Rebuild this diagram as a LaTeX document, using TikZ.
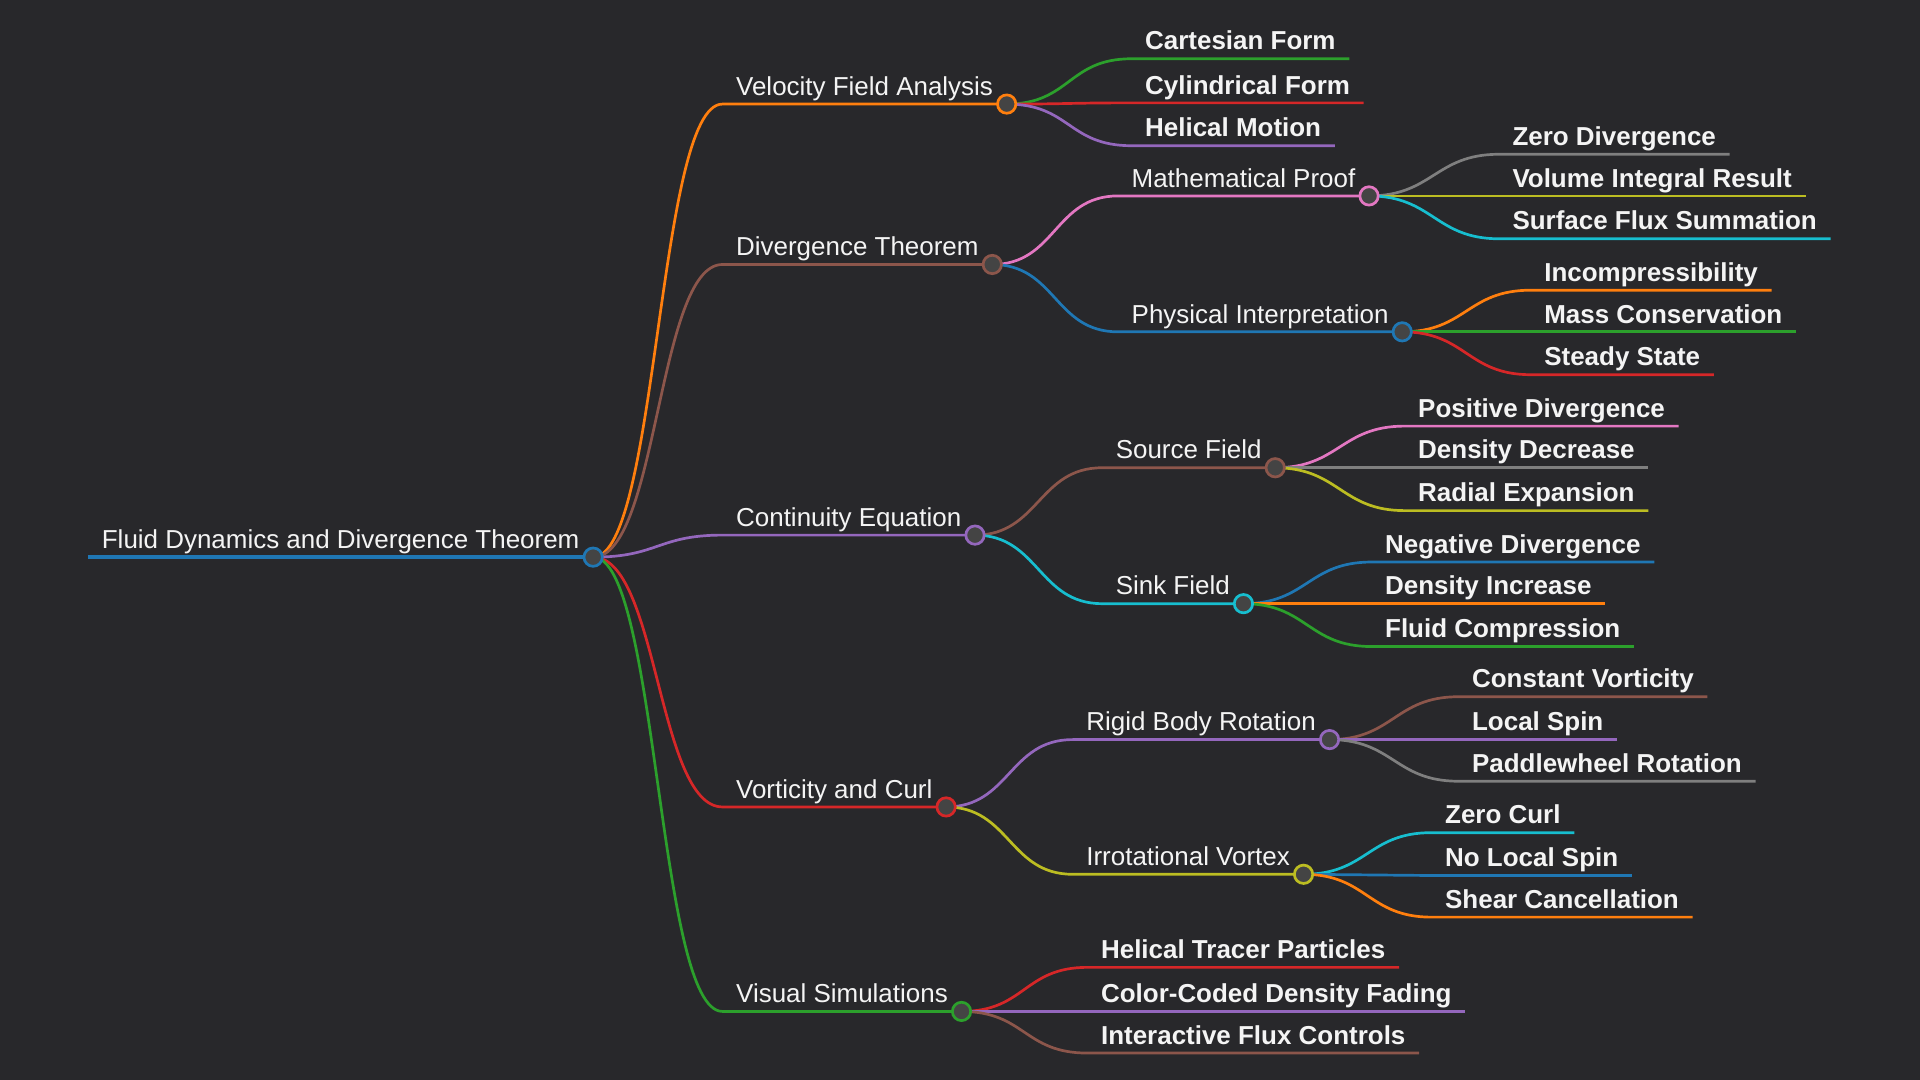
\documentclass[tikz,border=0pt]{standalone}
\usepackage{fontspec}
\setmainfont{Liberation Sans}
\definecolor{bg}{HTML}{28282B}
\definecolor{txt}{HTML}{F4F4F4}
\definecolor{dotgray}{HTML}{444444}
\definecolor{cblue}{HTML}{1F77B4}
\definecolor{corange}{HTML}{FF7F0E}
\definecolor{cgreen}{HTML}{2CA02C}
\definecolor{cred}{HTML}{D62728}
\definecolor{cpurple}{HTML}{9467BD}
\definecolor{cbrown}{HTML}{8C564B}
\definecolor{cpink}{HTML}{E377C2}
\definecolor{cgray}{HTML}{7F7F7F}
\definecolor{colive}{HTML}{BCBD22}
\definecolor{ccyan}{HTML}{17BECF}
\tikzset{
  topic/.style={anchor=south west, inner xsep=11pt, inner ysep=0pt, text depth=7pt,
    text=txt, font=\fontsize{21.2}{25}\selectfont},
  leaf/.style={topic, font=\fontsize{21.2}{25}\selectfont\bfseries},
  link/.style={draw=#1, line width=2.2pt},
  dot/.style={circle, draw=#1, fill=dotgray, line width=2.2pt, minimum size=15pt, inner sep=0pt},
}
\begin{document}
\begin{tikzpicture}[x=1pt,y=-1pt]
\fill[bg] (0,0) rectangle (1568,882);
\useasboundingbox (0,0) rectangle (1568,882);
% topics
\node[topic] (root) at (72,455) {Fluid Dynamics and Divergence Theorem};
\node[topic] (vel) at (590,85) {Velocity Field Analysis};
\node[topic] (div) at (590,216) {Divergence Theorem};
\node[topic] (cont) at (590,437) {Continuity Equation};
\node[topic] (vort) at (590,659) {Vorticity and Curl};
\node[topic] (vis) at (590,826) {Visual Simulations};
\node[topic] (math) at (913,160) {Mathematical Proof};
\node[topic] (phys) at (913,271) {Physical Interpretation};
\node[topic] (src) at (900,382) {Source Field};
\node[topic] (sink) at (900,493) {Sink Field};
\node[topic] (rigid) at (876,604) {Rigid Body Rotation};
\node[topic] (irrot) at (876,714) {Irrotational Vortex};
% leaves
\node[leaf] (cart) at (924,48) {Cartesian Form};
\node[leaf] (cyl) at (924,84) {Cylindrical Form};
\node[leaf] (hel) at (924,119) {Helical Motion};
\node[leaf] (zdiv) at (1224,126) {Zero Divergence};
\node[leaf] (vol) at (1224,160) {Volume Integral Result};
\node[leaf] (surf) at (1224,195) {Surface Flux Summation};
\node[leaf] (incomp) at (1250,237) {Incompressibility};
\node[leaf] (mass) at (1250,271) {Mass Conservation};
\node[leaf] (steady) at (1250,306) {Steady State};
\node[leaf] (pos) at (1147,348) {Positive Divergence};
\node[leaf] (ddec) at (1147,382) {Density Decrease};
\node[leaf] (rad) at (1147,417) {Radial Expansion};
\node[leaf] (neg) at (1120,459) {Negative Divergence};
\node[leaf] (dinc) at (1120,493) {Density Increase};
\node[leaf] (comp) at (1120,528) {Fluid Compression};
\node[leaf] (cvort) at (1191,569) {Constant Vorticity};
\node[leaf] (lspin) at (1191,604) {Local Spin};
\node[leaf] (paddle) at (1191,638) {Paddlewheel Rotation};
\node[leaf] (zcurl) at (1169,680) {Zero Curl};
\node[leaf] (nospin) at (1169,715) {No Local Spin};
\node[leaf] (shear) at (1169,749) {Shear Cancellation};
\node[leaf] (tracer) at (888,790) {Helical Tracer Particles};
\node[leaf] (fade) at (888,826) {Color-Coded Density Fading};
\node[leaf] (flux) at (888,860) {Interactive Flux Controls};
% links
\draw[link=cblue, line width=3.5pt] (root.south west) -- (root.south east);
\draw[link=corange] (root.south east) .. controls +(53,0) and +(-53,0) .. (vel.south west) -- (vel.south east);
\draw[link=cbrown] (root.south east) .. controls +(53,0) and +(-53,0) .. (div.south west) -- (div.south east);
\draw[link=cpurple] (root.south east) .. controls +(53,0) and +(-53,0) .. (cont.south west) -- (cont.south east);
\draw[link=cred] (root.south east) .. controls +(53,0) and +(-53,0) .. (vort.south west) -- (vort.south east);
\draw[link=cgreen] (root.south east) .. controls +(53,0) and +(-53,0) .. (vis.south west) -- (vis.south east);
\draw[link=cgreen] (vel.south east) .. controls +(52,0) and +(-52,0) .. (cart.south west) -- (cart.south east);
\draw[link=cred] (vel.south east) .. controls +(52,0) and +(-52,0) .. (cyl.south west) -- (cyl.south east);
\draw[link=cpurple] (vel.south east) .. controls +(52,0) and +(-52,0) .. (hel.south west) -- (hel.south east);
\draw[link=cpink] (div.south east) .. controls +(52,0) and +(-52,0) .. (math.south west) -- (math.south east);
\draw[link=cblue] (div.south east) .. controls +(52,0) and +(-52,0) .. (phys.south west) -- (phys.south east);
\draw[link=cgray] (math.south east) .. controls +(52,0) and +(-52,0) .. (zdiv.south west) -- (zdiv.south east);
\draw[link=colive] (math.south east) .. controls +(52,0) and +(-52,0) .. (vol.south west) -- (vol.south east);
\draw[link=ccyan] (math.south east) .. controls +(52,0) and +(-52,0) .. (surf.south west) -- (surf.south east);
\draw[link=corange] (phys.south east) .. controls +(52,0) and +(-52,0) .. (incomp.south west) -- (incomp.south east);
\draw[link=cgreen] (phys.south east) .. controls +(52,0) and +(-52,0) .. (mass.south west) -- (mass.south east);
\draw[link=cred] (phys.south east) .. controls +(52,0) and +(-52,0) .. (steady.south west) -- (steady.south east);
\draw[link=cbrown] (cont.south east) .. controls +(52,0) and +(-52,0) .. (src.south west) -- (src.south east);
\draw[link=ccyan] (cont.south east) .. controls +(52,0) and +(-52,0) .. (sink.south west) -- (sink.south east);
\draw[link=cpink] (src.south east) .. controls +(52,0) and +(-52,0) .. (pos.south west) -- (pos.south east);
\draw[link=cgray] (src.south east) .. controls +(52,0) and +(-52,0) .. (ddec.south west) -- (ddec.south east);
\draw[link=colive] (src.south east) .. controls +(52,0) and +(-52,0) .. (rad.south west) -- (rad.south east);
\draw[link=cblue] (sink.south east) .. controls +(52,0) and +(-52,0) .. (neg.south west) -- (neg.south east);
\draw[link=corange] (sink.south east) .. controls +(52,0) and +(-52,0) .. (dinc.south west) -- (dinc.south east);
\draw[link=cgreen] (sink.south east) .. controls +(52,0) and +(-52,0) .. (comp.south west) -- (comp.south east);
\draw[link=cpurple] (vort.south east) .. controls +(52,0) and +(-52,0) .. (rigid.south west) -- (rigid.south east);
\draw[link=colive] (vort.south east) .. controls +(52,0) and +(-52,0) .. (irrot.south west) -- (irrot.south east);
\draw[link=cbrown] (rigid.south east) .. controls +(52,0) and +(-52,0) .. (cvort.south west) -- (cvort.south east);
\draw[link=cpurple] (rigid.south east) .. controls +(52,0) and +(-52,0) .. (lspin.south west) -- (lspin.south east);
\draw[link=cgray] (rigid.south east) .. controls +(52,0) and +(-52,0) .. (paddle.south west) -- (paddle.south east);
\draw[link=ccyan] (irrot.south east) .. controls +(52,0) and +(-52,0) .. (zcurl.south west) -- (zcurl.south east);
\draw[link=cblue] (irrot.south east) .. controls +(52,0) and +(-52,0) .. (nospin.south west) -- (nospin.south east);
\draw[link=corange] (irrot.south east) .. controls +(52,0) and +(-52,0) .. (shear.south west) -- (shear.south east);
\draw[link=cred] (vis.south east) .. controls +(52,0) and +(-52,0) .. (tracer.south west) -- (tracer.south east);
\draw[link=cpurple] (vis.south east) .. controls +(52,0) and +(-52,0) .. (fade.south west) -- (fade.south east);
\draw[link=cbrown] (vis.south east) .. controls +(52,0) and +(-52,0) .. (flux.south west) -- (flux.south east);
% dots
\node[dot=cblue] (rootdot) at (root.south east) {};
\node[dot=corange] (veldot) at (vel.south east) {};
\node[dot=cbrown] (divdot) at (div.south east) {};
\node[dot=cpurple] (contdot) at (cont.south east) {};
\node[dot=cred] (vortdot) at (vort.south east) {};
\node[dot=cgreen] (visdot) at (vis.south east) {};
\node[dot=cpink] (mathdot) at (math.south east) {};
\node[dot=cblue] (physdot) at (phys.south east) {};
\node[dot=cbrown] (srcdot) at (src.south east) {};
\node[dot=ccyan] (sinkdot) at (sink.south east) {};
\node[dot=cpurple] (rigiddot) at (rigid.south east) {};
\node[dot=colive] (irrotdot) at (irrot.south east) {};
\end{tikzpicture}
\end{document}
